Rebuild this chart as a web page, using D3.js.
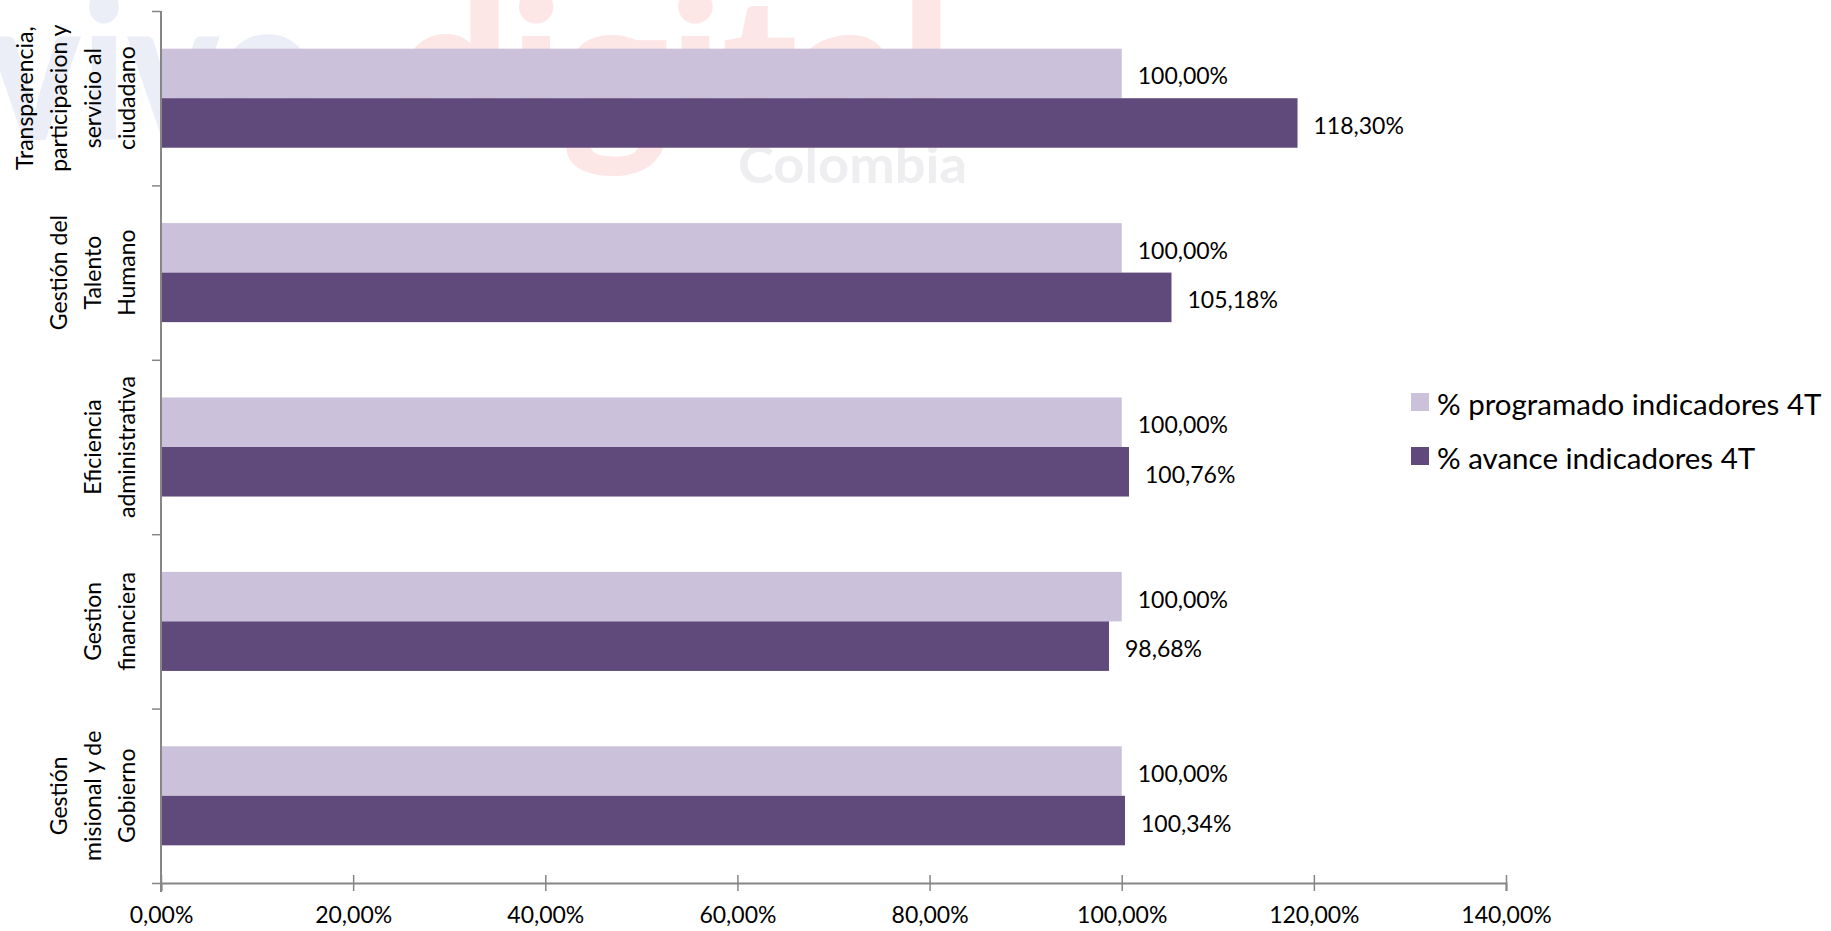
<!DOCTYPE html>
<html>
<head>
<meta charset="utf-8">
<script src="https://cdn.jsdelivr.net/npm/d3@7"></script>
<style>
  body { margin: 0; background: #fff; }
  svg { display: block; font-family: Lato, "Open Sans", sans-serif; }
</style>
</head>
<body>
<div id="chart"></div>
<script>
// data
const categories = [
    ["Transparencia,", "participacion y", "servicio al", "ciudadano"],
    ["Gestión del", "Talento", "Humano"],
    ["Eficiencia", "administrativa"],
    ["Gestion", "financiera"],
    ["Gestión", "misional y de", "Gobierno"]
];
const seriesNames = ["% programado indicadores 4T", "% avance indicadores 4T"];
const programado = [100.00, 100.00, 100.00, 100.00, 100.00];
const avance = [118.30, 105.18, 100.76, 98.68, 100.34];
const xTicks = [0, 20, 40, 60, 80, 100, 120, 140];
const colours = ["#CCC1DA", "#604A7B"];

const width = 1831, height = 931;
const plot = { left: 161, right: 1506, top: 11, bottom: 883 };

const svg = d3.select("#chart").append("svg")
    .attr("width", width)
    .attr("height", height);

// faint watermark behind the chart
const wm = svg.append("g").attr("class", "watermark")
    .style("font-weight", 900);
wm.append("text")
    .attr("x", -12).attr("y", 140)
    .attr("textLength", 330).attr("lengthAdjust", "spacingAndGlyphs")
    .attr("fill", "#eceef7")
    .style("font-size", "200px")
    .text("vivo");
wm.append("text")
    .attr("x", 395).attr("y", 140)
    .attr("textLength", 557).attr("lengthAdjust", "spacingAndGlyphs")
    .attr("fill", "#fde6e6")
    .style("font-size", "200px")
    .text("digital");
wm.append("text")
    .attr("x", 738).attr("y", 183)
    .attr("textLength", 229).attr("lengthAdjust", "spacingAndGlyphs")
    .attr("fill", "#eeeef1")
    .style("font-size", "52px").style("font-weight", 700)
    .text("Colombia");

const x = d3.scaleLinear().domain([0, 140]).range([plot.left, plot.right]);
const idx = d3.range(categories.length);
const y = d3.scaleBand().domain(idx).range([plot.top, plot.bottom])
    .paddingInner(0.432).paddingOuter(0.216);
const ySub = d3.scaleBand().domain([0, 1]).range([0, y.bandwidth()]);
const yEdge = d3.scaleLinear().domain([0, categories.length]).range([plot.top, plot.bottom]);

const fmt = v => d3.format(".2f")(v).replace(".", ",") + "%";

// bars
const rows = idx.map(i => [programado[i], avance[i]]);
const groups = svg.append("g").selectAll("g")
    .data(rows)
    .join("g")
    .attr("transform", (d, i) => `translate(0,${y(i)})`);

groups.selectAll("rect")
    .data(d => d)
    .join("rect")
    .attr("x", x(0))
    .attr("y", (d, j) => ySub(j))
    .attr("width", d => x(d) - x(0))
    .attr("height", ySub.bandwidth())
    .attr("fill", (d, j) => colours[j]);

groups.selectAll("text")
    .data(d => d)
    .join("text")
    .attr("x", d => x(d) + 16)
    .attr("y", (d, j) => ySub(j) + ySub.bandwidth() / 2 + 2)
    .attr("dominant-baseline", "central")
    .style("font-size", "23px")
    .attr("fill", "#000")
    .text(fmt);

// x axis with crossing ticks
const xAxis = svg.append("g")
    .attr("transform", `translate(0,${plot.bottom})`)
    .call(d3.axisBottom(x).tickValues(xTicks).tickFormat(fmt).tickSizeOuter(0).tickSize(8).tickPadding(16));
xAxis.select(".domain").attr("stroke", "#868686").attr("stroke-width", 2);
xAxis.selectAll(".tick line").attr("y1", -8).attr("stroke", "#868686").attr("stroke-width", 1.5);
xAxis.selectAll(".tick text").style("font-size", "23px").attr("fill", "#000");
xAxis.attr("font-family", null).attr("font-size", null);

// y axis, ticks at category boundaries
const yAxis = svg.append("g")
    .attr("transform", `translate(${plot.left},0)`)
    .call(d3.axisLeft(yEdge).tickValues(d3.range(categories.length + 1)).tickFormat("").tickSize(9).tickSizeOuter(0));
yAxis.select(".domain").attr("stroke", "#868686").attr("stroke-width", 2)
    .attr("d", `M0,${plot.top}V${plot.bottom + 9}`);
yAxis.selectAll(".tick line").attr("stroke", "#868686").attr("stroke-width", 1.5);

// rotated category labels, last line next to the axis
const lineGap = 34, lastLineX = 126;
categories.forEach((lines, i) => {
    const cy = yEdge(i + 0.5);
    lines.forEach((t, k) => {
        const lx = lastLineX - (lines.length - 1 - k) * lineGap;
        svg.append("text")
            .attr("transform", `translate(${lx},${cy}) rotate(-90)`)
            .attr("text-anchor", "middle")
            .attr("dominant-baseline", "central")
            .style("font-size", "23px")
            .attr("fill", "#000")
            .text(t);
    });
});

// legend
const legend = svg.append("g").attr("transform", "translate(1411,393)");
const items = legend.selectAll("g")
    .data(seriesNames)
    .join("g")
    .attr("transform", (d, i) => `translate(0,${i * 54})`);
items.append("rect")
    .attr("width", 18).attr("height", 18)
    .attr("fill", (d, i) => colours[i]);
items.append("text")
    .attr("x", 26).attr("y", 10)
    .attr("dominant-baseline", "central")
    .style("font-size", "29.5px")
    .attr("fill", "#000")
    .text(d => d);
</script>
</body>
</html>
